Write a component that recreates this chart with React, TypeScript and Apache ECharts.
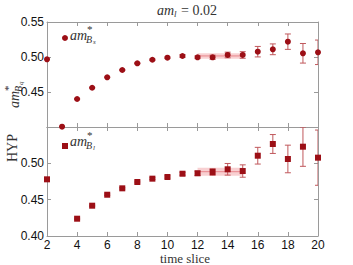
import React, { useEffect, useRef } from "react";
import * as echarts from "echarts";

const slices = [2, 3, 4, 5, 6, 7, 8, 9, 10, 11, 12, 13, 14, 15, 16, 17, 18, 19, 20];
const bsValues = [0.4967, 0.4004, 0.440, 0.4561, 0.471, 0.4814, 0.491, 0.4961, 0.499, 0.5014, 0.4996, 0.4996, 0.5029, 0.5029, 0.5076, 0.511, 0.5219, 0.5053, 0.5067];
const bsErrors = [0.0005, 0.0005, 0.0005, 0.0005, 0.0005, 0.0005, 0.0008, 0.001, 0.001, 0.002, 0.002, 0.003, 0.004, 0.0047, 0.0075, 0.0077, 0.011, 0.014, 0.0175];
const blValues = [0.478, null, 0.4238, 0.4417, 0.4568, 0.4656, 0.4743, 0.4789, 0.4812, 0.4857, 0.4863, 0.4881, 0.4918, 0.4894, 0.5105, 0.5266, 0.506, 0.5229, 0.5078];
const blErrors = [0.0005, 0, 0.0008, 0.0008, 0.001, 0.001, 0.0012, 0.0012, 0.0015, 0.002, 0.003, 0.0046, 0.008, 0.0085, 0.0115, 0.013, 0.019, 0.027, 0.038];
const bsFit = { from: 12, to: 15, center: 0.5015, half: 0.004 };
const blFit = { from: 12, to: 15, center: 0.4885, half: 0.0055 };
const xTicks = { min: 2, max: 20, step: 2 };
const yTicks = { min: 0.4, max: 0.55, step: 0.05 };

const MARK = "#9c0f16";
const ERR = "#c0585c";
const BAND = "rgba(240,150,155,0.45)";
const BANDLINE = "#e8868c";
const AXIS = "#9a9a9a";
const SERIF = "Liberation Serif, DejaVu Serif, serif";
const SANS = "Liberation Sans, Arial, sans-serif";

function errData(vals: (number | null)[], errs: number[]) {
  const out: any[] = [];
  slices.forEach((x, i) => {
    const v = vals[i];
    if (v == null) return;
    out.push([x, v - errs[i], v + errs[i]]);
  });
  return out;
}

function errRender(params: any, api: any) {
  const x = api.value(0);
  const p1 = api.coord([x, api.value(1)]);
  const p2 = api.coord([x, api.value(2)]);
  const w = 3;
  const st = { stroke: ERR, lineWidth: 1 };
  return {
    type: "group",
    children: [
      { type: "line", shape: { x1: p1[0], y1: p1[1], x2: p2[0], y2: p2[1] }, style: st },
      { type: "line", shape: { x1: p1[0] - w, y1: p1[1], x2: p1[0] + w, y2: p1[1] }, style: st },
      { type: "line", shape: { x1: p2[0] - w, y1: p2[1], x2: p2[0] + w, y2: p2[1] }, style: st },
    ],
  };
}

function bandRender(params: any, api: any) {
  const x0 = api.value(0), x1 = api.value(1), c = api.value(2), h = api.value(3);
  const a = api.coord([x0, c + h]);
  const b = api.coord([x1, c - h]);
  const m0 = api.coord([x0, c]);
  const m1 = api.coord([x1, c]);
  return {
    type: "group",
    children: [
      { type: "rect", shape: { x: a[0], y: a[1], width: b[0] - a[0], height: b[1] - a[1] }, style: { fill: BAND } },
      { type: "line", shape: { x1: m0[0], y1: m0[1], x2: m1[0], y2: m1[1] }, style: { stroke: BANDLINE, lineWidth: 1 } },
    ],
  };
}

function xAxis(grid: number, pos: string, labels: boolean) {
  return {
    type: "value", gridIndex: grid, position: pos, min: xTicks.min, max: xTicks.max, interval: xTicks.step,
    axisLine: { show: true, lineStyle: { color: AXIS } },
    axisTick: { show: true, inside: true, length: 4, lineStyle: { color: AXIS } },
    axisLabel: { show: labels, color: "#111", fontFamily: SANS, fontSize: 12, lineHeight: 11, margin: 3 },
    splitLine: { show: false },
  };
}
function yAxis(grid: number, pos: string, labels: boolean, hideMin: boolean, hideMax: boolean) {
  return {
    type: "value", gridIndex: grid, position: pos, min: yTicks.min, max: yTicks.max, interval: yTicks.step,
    axisLine: { show: true, lineStyle: { color: AXIS } },
    axisTick: { show: true, inside: true, length: 4, lineStyle: { color: AXIS } },
    axisLabel: {
      show: labels, color: "#111", fontFamily: SANS, fontSize: 12, margin: 3,
      showMinLabel: !hideMin, showMaxLabel: !hideMax,
      formatter: (v: number) => v.toFixed(2),
    },
    splitLine: { show: false },
  };
}

function txt(x: number, y: number, text: string, size: number, italic: boolean, align = "left") {
  return {
    type: "text", x, y,
    style: { text, fontSize: size, fontFamily: SERIF, fontStyle: italic ? "italic" : "normal", fill: "#333", align, verticalAlign: "middle" },
  };
}

function mathLabel(x: number, y: number, sub: string, rotation = 0) {
  return {
    type: "group", x, y, rotation,
    children: [
      txt(0, 0, "am", 14, true),
      txt(17, -6, "*", 11, false),
      txt(16, 4, "B", 10, true),
      txt(23, 7, sub, 7, true),
    ],
  };
}

export default function App() {
  const ref = useRef<HTMLDivElement>(null);
  useEffect(() => {
    const chart = echarts.init(ref.current!, undefined, { renderer: "svg" });
    chart.setOption({
      animation: false,
      grid: [
        { left: 47, top: 22, width: 271, height: 105 },
        { left: 47, top: 127, width: 271, height: 109 },
      ],
      xAxis: [xAxis(0, "bottom", false), xAxis(0, "top", false), xAxis(1, "bottom", true), xAxis(1, "top", false)],
      yAxis: [
        yAxis(0, "left", true, true, false), yAxis(0, "right", false, false, false),
        yAxis(1, "left", true, false, true), yAxis(1, "right", false, false, false),
      ],
      legend: [
        { data: ["Bs"], left: 57, top: 30, icon: "circle", itemWidth: 6, itemHeight: 6, formatter: () => "", selectedMode: false },
        { data: ["Bl"], left: 57, top: 138, icon: "rect", itemWidth: 6, itemHeight: 6, formatter: () => "", selectedMode: false },
      ],
      series: [
        { type: "custom", xAxisIndex: 0, yAxisIndex: 0, renderItem: bandRender, data: [[bsFit.from, bsFit.to, bsFit.center, bsFit.half]], z: 1, clip: true, silent: true },
        { type: "custom", xAxisIndex: 0, yAxisIndex: 0, renderItem: errRender, data: errData(bsValues, bsErrors), encode: { x: 0, y: [1, 2] }, z: 2, clip: true, silent: true },
        { name: "Bs", type: "scatter", xAxisIndex: 0, yAxisIndex: 0, symbol: "circle", symbolSize: 6, itemStyle: { color: MARK, opacity: 1 }, data: slices.map((x, i) => [x, bsValues[i]]), z: 3 },
        { type: "custom", xAxisIndex: 2, yAxisIndex: 2, renderItem: bandRender, data: [[blFit.from, blFit.to, blFit.center, blFit.half]], z: 1, clip: true, silent: true },
        { type: "custom", xAxisIndex: 2, yAxisIndex: 2, renderItem: errRender, data: errData(blValues, blErrors), encode: { x: 0, y: [1, 2] }, z: 2, clip: true, silent: true },
        { name: "Bl", type: "scatter", xAxisIndex: 2, yAxisIndex: 2, symbol: "rect", symbolSize: 6, itemStyle: { color: MARK, opacity: 1 }, data: slices.map((x, i) => (blValues[i] == null ? [x, "-"] : [x, blValues[i]])), z: 3 },
      ],
      graphic: [
        mathLabel(70, 35, "s"),
        mathLabel(70, 141, "l"),
        { type: "group", x: 157, y: 10, children: [txt(0, 0, "am", 14, true), txt(17, 4, "l", 9, true), txt(24, 0, "= 0.02", 14, false)] },
        mathLabel(14, 108, "q", Math.PI / 2),
        { type: "text", x: 12, y: 148, rotation: Math.PI / 2, style: { text: "HYP", fontSize: 14, fontFamily: SERIF, fill: "#333", align: "center", verticalAlign: "middle" } },
        { type: "text", x: 185, y: 258, style: { text: "time slice", fontSize: 13, lineHeight: 13, fontFamily: SERIF, fill: "#333", align: "center", verticalAlign: "middle" } },
      ],
    });
    return () => chart.dispose();
  }, []);
  return <div ref={ref} style={{ width: 353, height: 265, position: "absolute", left: 0, top: 0 }} />;
}
